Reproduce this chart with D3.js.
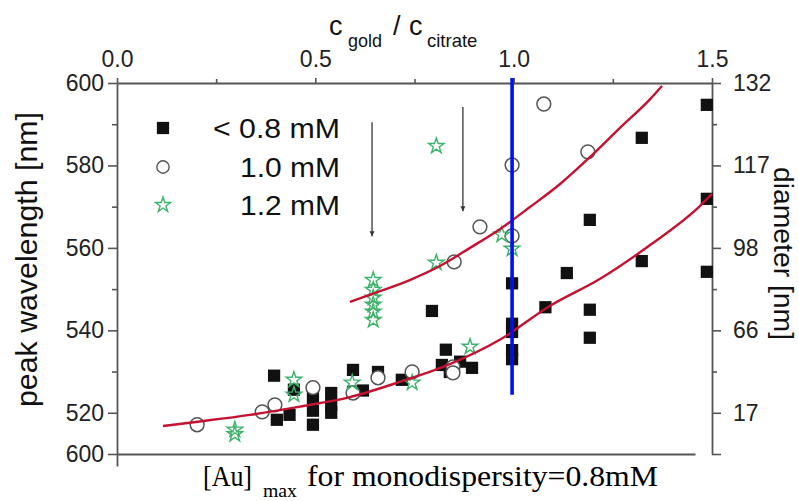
<!DOCTYPE html>
<html><head><meta charset="utf-8">
<script src="https://cdn.jsdelivr.net/npm/d3@7"></script>
<style>
html,body{margin:0;padding:0;background:#fff;}
svg{display:block;}
</style>
</head><body>
<svg id="chart" width="799" height="501"></svg>
<script>
// ---- tick values / labels ----
const xTicks = [0, 0.5, 1.0, 1.5];
const xMinorTicks = [0.25, 0.75, 1.25];
const leftTickValues = [600, 580, 560, 540, 520, 510];
const leftTickLabels = ["600", "580", "560", "540", "520", "600"];
const yMinorTicks = [590, 570, 550, 530];
const diameterLabels = ["132", "117", "98", "66", "17", ""];

// ---- legend ----
const legendLabels = ["< 0.8 mM", "1.0 mM", "1.2 mM"];

// ---- series: [c_gold/c_citrate, peak wavelength nm] ----
const squares = [
  [0.396,529.0],[0.403,518.3],[0.435,519.5],[0.446,525.6],
  [0.494,523.6],[0.494,520.5],[0.494,517.1],
  [0.54,524.8],[0.54,521.9],[0.54,520.0],
  [0.595,530.4],[0.595,525.1],[0.62,525.4],[0.658,529.9],[0.718,528.0],
  [0.829,535.3],[0.819,531.6],[0.839,529.9],[0.865,532.4],[0.895,530.9],
  [0.794,544.7],
  [0.996,551.4],[0.996,541.6],[0.996,539.6],[0.996,535.2],[0.996,533.0],
  [1.08,545.6],[1.134,553.9],[1.192,566.8],[1.192,545.0],[1.192,538.2],
  [1.323,586.7],[1.323,556.8],
  [1.487,594.7],[1.487,571.9],[1.487,554.2]
];
const circles = [
  [0.202,517.1],[0.366,520.2],[0.398,521.9],[0.494,526.1],[0.595,524.8],
  [0.658,528.5],[0.744,529.9],[0.847,531.1],[0.847,529.7],
  [0.850,556.6],[0.915,565.1],[0.996,562.9],[0.996,580.1],
  [1.076,594.9],[1.187,583.3]
];
const stars = [
  [0.297,515.9],[0.297,514.8],[0.446,528.0],[0.446,524.4],
  [0.593,527.3],[0.744,527.3],[0.89,536.0],
  [0.646,552.2],[0.646,549.8],[0.646,547.9],[0.646,546.2],[0.646,544.5],[0.646,542.5],
  [0.805,556.4],[0.805,584.7],[0.97,563.2],[0.996,559.8]
];
// fitted guide curves
const fitLower = [
  [0.116,516.8],[0.209,517.9],[0.335,519.5],[0.461,521.5],[0.587,523.8],
  [0.713,527.5],[0.839,531.8],[0.965,537.7],[1.091,545.9],[1.218,552.5],
  [1.344,560.7],[1.47,570.2],[1.5,573.1]
];
const fitUpper = [
  [0.587,546.9],[0.663,549.5],[0.738,552.2],[0.814,555.6],[0.890,560.0],
  [0.966,564.6],[1.041,569.9],[1.117,575.5],[1.192,582.0],[1.268,589.1],
  [1.344,596.1],[1.374,599.3]
];
// vertical marker at c_gold/c_citrate = 1.0
const blueLine = [[0.996,601.2],[0.996,524.4]];
// arrows [x, yStart, yEnd]
const arrows = [[0.643,590.5,562.8],[0.872,594.2,568.9]];

// ---- layout ----
const svg = d3.select("#chart");
const x = d3.scaleLinear().domain([0,1.5]).range([117,712]);
const y = d3.scaleLinear().domain([510,600]).range([454,83]);
const sans = "'Liberation Sans', Arial, Helvetica, sans-serif";
const serif = "'Liberation Serif', 'Times New Roman', serif";
const axisColor = "#555";
const textColor = "#222";

function styleAxis(g){
  g.selectAll("path.domain").attr("stroke", axisColor).attr("stroke-width", 1.8);
  g.selectAll(".tick line").attr("stroke", axisColor).attr("stroke-width", 1.6);
  g.selectAll(".tick text").attr("fill", textColor).style("font-family", sans).style("font-size", "23px");
}

// top axis
const gTop = svg.append("g").attr("transform","translate(0,83)")
  .call(d3.axisTop(x).tickValues(xTicks).tickFormat(d3.format(".1f")).tickSize(5).tickPadding(11).tickSizeOuter(0));
styleAxis(gTop);
gTop.selectAll("text").attr("dy","0em");
const gTopMinor = svg.append("g").attr("transform","translate(0,83)")
  .call(d3.axisTop(x).tickValues(xMinorTicks).tickFormat("").tickSize(4).tickSizeOuter(0));
styleAxis(gTopMinor); gTopMinor.select("path.domain").remove();

// bottom axis line (no ticks)
const xb = x.copy().domain([0, x.invert(695)]).range([117,695]);
const gBot = svg.append("g").attr("transform","translate(0,454)")
  .call(d3.axisBottom(xb).tickValues([]).tickSizeOuter(0));
styleAxis(gBot);

// left axis (line extends below plot)
const yl = y.copy().domain([y.invert(466),600]).range([466,83]);
const gLeft = svg.append("g").attr("transform","translate(117,0)")
  .call(d3.axisLeft(yl).tickValues(leftTickValues)
    .tickFormat((d,i)=>leftTickLabels[i]).tickSize(9).tickPadding(4).tickSizeOuter(0));
styleAxis(gLeft);
const gLeftMinor = svg.append("g").attr("transform","translate(117,0)")
  .call(d3.axisLeft(y).tickValues(yMinorTicks).tickFormat("").tickSize(5).tickSizeOuter(0));
styleAxis(gLeftMinor); gLeftMinor.select("path.domain").remove();

// right axis (diameter)
const gRight = svg.append("g").attr("transform","translate(712,0)")
  .call(d3.axisRight(y).tickValues(leftTickValues)
    .tickFormat((d,i)=>diameterLabels[i]).tickSize(9).tickPadding(12).tickSizeOuter(0));
styleAxis(gRight);
const gRightMinor = svg.append("g").attr("transform","translate(712,0)")
  .call(d3.axisRight(y).tickValues(yMinorTicks).tickFormat("").tickSize(5).tickSizeOuter(0));
styleAxis(gRightMinor); gRightMinor.select("path.domain").remove();

// ---- markers ----
const plot = svg.append("g");
plot.selectAll("path.sq").data(squares).join("path").attr("class","sq")
  .attr("d", d3.symbol(d3.symbolSquare, 150))
  .attr("transform", d=>`translate(${x(d[0])},${y(d[1])})`)
  .attr("fill","#111");
plot.selectAll("path.ci").data(circles).join("path").attr("class","ci")
  .attr("d", d3.symbol(d3.symbolCircle, 150))
  .attr("transform", d=>`translate(${x(d[0])},${y(d[1])})`)
  .attr("fill","#fff").attr("stroke","#555").attr("stroke-width",1.5);
plot.selectAll("path.st").data(stars).join("path").attr("class","st")
  .attr("d", d3.symbol(d3.symbolStar, 75))
  .attr("transform", d=>`translate(${x(d[0])},${y(d[1])})`)
  .attr("fill","none").attr("stroke","#3cb36a").attr("stroke-width",1.4);

// fit curves
const line = d3.line().x(d=>x(d[0])).y(d=>y(d[1])).curve(d3.curveMonotoneX);
[fitLower, fitUpper].forEach(f=>{
  plot.append("path").datum(f).attr("d", line)
    .attr("fill","none").attr("stroke","#c41230").attr("stroke-width",2.4);
});

// blue vertical line
plot.append("path").datum(blueLine).attr("d", d3.line().x(d=>x(d[0])).y(d=>y(d[1])))
  .attr("stroke","#0010f5").attr("stroke-width",3.6).attr("fill","none");

// arrows
svg.append("defs").append("marker").attr("id","ah")
  .attr("viewBox","0 0 10 10").attr("refX",10).attr("refY",5)
  .attr("markerWidth",5).attr("markerHeight",7).attr("markerUnits","userSpaceOnUse")
  .attr("orient","auto")
  .append("path").attr("d","M0,0 L10,5 L0,10 Z").attr("fill","#333");
plot.selectAll("line.arr").data(arrows).join("line").attr("class","arr")
  .attr("x1", d=>x(d[0])).attr("x2", d=>x(d[0]))
  .attr("y1", d=>y(d[1])).attr("y2", d=>y(d[2]))
  .attr("stroke","#444").attr("stroke-width",1.4).attr("marker-end","url(#ah)");

// ---- legend ----
const legendSymbols = [
  {sym:d3.symbolSquare, size:150, fill:"#111", stroke:"none"},
  {sym:d3.symbolCircle, size:120, fill:"#fff", stroke:"#555"},
  {sym:d3.symbolStar, size:70, fill:"none", stroke:"#3cb36a"}
];
const legendY = [128, 167, 205];
const legendLen = [127, 100, 100];
const lg = svg.append("g");
legendLabels.forEach((lab,i)=>{
  lg.append("path").attr("d", d3.symbol(legendSymbols[i].sym, legendSymbols[i].size))
    .attr("transform",`translate(163,${legendY[i]})`)
    .attr("fill",legendSymbols[i].fill).attr("stroke",legendSymbols[i].stroke).attr("stroke-width",1.4);
  lg.append("text").attr("x",340).attr("y",legendY[i]+10).attr("text-anchor","end")
    .attr("textLength",legendLen[i]).attr("lengthAdjust","spacingAndGlyphs")
    .style("font-family",sans).style("font-size","27px").attr("fill","#111").text(lab);
});

// ---- titles ----
const tt = svg.append("text").style("font-family",sans).attr("fill","#111");
tt.append("tspan").attr("x",329).attr("y",35).style("font-size","27px").text("c");
tt.append("tspan").attr("x",348).attr("y",47).style("font-size","18px").text("gold");
tt.append("tspan").attr("x",393).attr("y",35).style("font-size","27px").text("/");
tt.append("tspan").attr("x",409).attr("y",35).style("font-size","27px").text("c");
tt.append("tspan").attr("x",427).attr("y",47).style("font-size","18.5px").text("citrate");

svg.append("text").attr("transform","translate(37,259.5) rotate(-90)")
  .attr("text-anchor","middle").attr("textLength",295).attr("lengthAdjust","spacingAndGlyphs")
  .style("font-family",sans).style("font-size","29px").attr("fill","#111")
  .text("peak wavelength [nm]");

svg.append("text").attr("transform","translate(774,253.5) rotate(90)")
  .attr("text-anchor","middle").attr("textLength",173).attr("lengthAdjust","spacingAndGlyphs")
  .style("font-family",sans).style("font-size","27px").attr("fill","#111")
  .text("diameter [nm]");

const bt = svg.append("g").style("font-family",serif).attr("fill","#000");
bt.append("text").attr("x",203).attr("y",486).attr("textLength",49).attr("lengthAdjust","spacingAndGlyphs")
  .style("font-size","30px").text("[Au]");
bt.append("text").attr("x",263).attr("y",497).attr("textLength",34).attr("lengthAdjust","spacingAndGlyphs")
  .style("font-size","19px").text("max");
bt.append("text").attr("x",307).attr("y",486).attr("textLength",351).attr("lengthAdjust","spacingAndGlyphs")
  .style("font-size","30px").text("for monodispersity=0.8mM");
</script>
</body></html>
